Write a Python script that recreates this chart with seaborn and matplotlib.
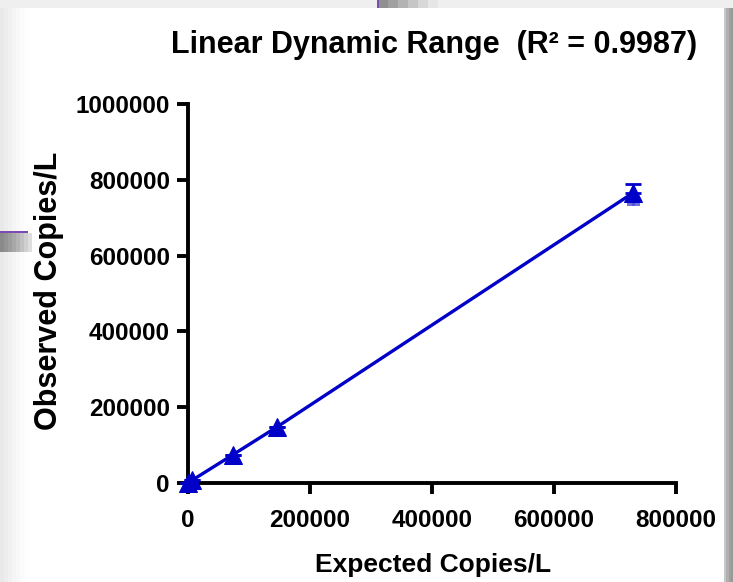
import numpy as np
import pandas as pd
import seaborn as sns
import matplotlib
matplotlib.use("Agg")
import matplotlib.pyplot as plt
from matplotlib import font_manager
from matplotlib.patches import Rectangle

# ---- data ----
expected = [730, 7300, 73000, 146000, 730000]
observed = [900, 7800, 74000, 148000, 766000]
sd_upper = [0, 0, 0, 0, 23000]
rep_x = [726000, 734000]
rep_y = [742000, 742000]
xticks = [0, 200000, 400000, 600000, 800000]
yticks = [0, 200000, 400000, 600000, 800000, 1000000]
title = "Linear Dynamic Range  (R² = 0.9987)"
xlabel = "Expected Copies/L"
ylabel = "Observed Copies/L"

names = {f.name for f in font_manager.fontManager.ttflist}
narrow = "Liberation Sans Narrow" if "Liberation Sans Narrow" in names else "Liberation Sans"

sns.set_theme(style="ticks")
plt.rcParams['font.family'] = ['Liberation Sans', 'DejaVu Sans']
plt.rcParams['text.color'] = 'black'

W, H = 733, 582
fig = plt.figure(figsize=(W / 100, H / 100), dpi=100)
fig.patch.set_facecolor("white")

# screenshot-like backdrop decorations
def px(x0, y0, x1, y1, color, z=-10):
    fig.patches.append(Rectangle((x0 / W, 1 - y1 / H), (x1 - x0) / W, (y1 - y0) / H,
                                 transform=fig.transFigure, facecolor=color,
                                 edgecolor="none", zorder=z))
px(0, 0, W, 8, "#efefef")
for i, c in enumerate(["#e9e9e9", "#ededed", "#f1f1f1", "#f5f5f5", "#f8f8f8", "#fbfbfb", "#fdfdfd"]):
    px(i * 4, 8, i * 4 + 4, H, c)
for i, c in enumerate(["#8a8a8a", "#939393", "#9d9d9d", "#a8a8a8", "#b4b4b4", "#c2c2c2", "#d0d0d0", "#dedede"]):
    px(i * 4, 233, i * 4 + 4, 252, c)
px(0, 231, 28, 233, "#7a4bb0")
for i, c in enumerate(["#909090", "#a0a0a0", "#b3b3b3", "#c6c6c6", "#d8d8d8", "#e6e6e6"]):
    px(378 + i * 10, 0, 388 + i * 10, 8, c)
px(377, 0, 379, 8, "#7a4bb0")
for i, c in enumerate(["#c8c8c8", "#b0b0b0", "#a0a0a0", "#999999"]):
    px(724 + i * 2.3, 8, 726.3 + i * 2.3, H, c)

ax = fig.add_axes([188 / W, 1 - 483 / H, (676 - 188) / W, (483 - 104) / H])
ax.set_facecolor("none")

blue = "#0000c8"
df = pd.DataFrame({"expected": expected, "observed": observed})
sns.lineplot(data=df, x="expected", y="observed", ax=ax, color=blue, linewidth=2.4,
             marker="^", markersize=13, markeredgecolor=blue, sort=True, zorder=5)
ax.errorbar(expected, observed, yerr=[[0] * len(sd_upper), sd_upper], fmt="none",
            ecolor=blue, elinewidth=2, capsize=6, capthick=2, zorder=4)
ax.scatter(rep_x, rep_y, marker="s", s=40, color="#4d4dd6", alpha=0.8, linewidths=0, zorder=3)
for art in ax.lines + ax.collections:
    art.set_clip_on(False)

ax.set_xlim(0, 800000)
ax.set_ylim(0, 1000000)
ax.set_xticks(xticks)
ax.set_yticks(yticks)
ax.set_xticklabels([str(v) for v in xticks])
ax.set_yticklabels([str(v) for v in yticks])
sns.despine(ax=ax)
for s in ["left", "bottom"]:
    ax.spines[s].set_linewidth(2.8)
    ax.spines[s].set_color("black")
ax.tick_params(axis="both", length=8, width=2.8, color="black", labelsize=17.5, labelcolor="black")
ax.tick_params(axis="y", pad=5)
ax.tick_params(axis="x", pad=11)
for lab in ax.get_xticklabels() + ax.get_yticklabels():
    lab.set_fontweight("bold")
ax.set_xlabel("")
ax.set_ylabel("")

fig.text(433 / W, 1 - 565 / H, xlabel, ha="center", va="center", fontsize=19, fontweight="bold",
         color="black")
fig.text(49 / W, 1 - 291 / H, ylabel, ha="center", va="center", rotation=90, fontsize=22,
         fontweight="bold", color="black")
fig.text(434 / W, 1 - 45 / H, title, ha="center", va="center", fontsize=22, fontweight="bold",
         family=[narrow, "DejaVu Sans"], color="black")

fig.savefig("out.png", dpi=100)
